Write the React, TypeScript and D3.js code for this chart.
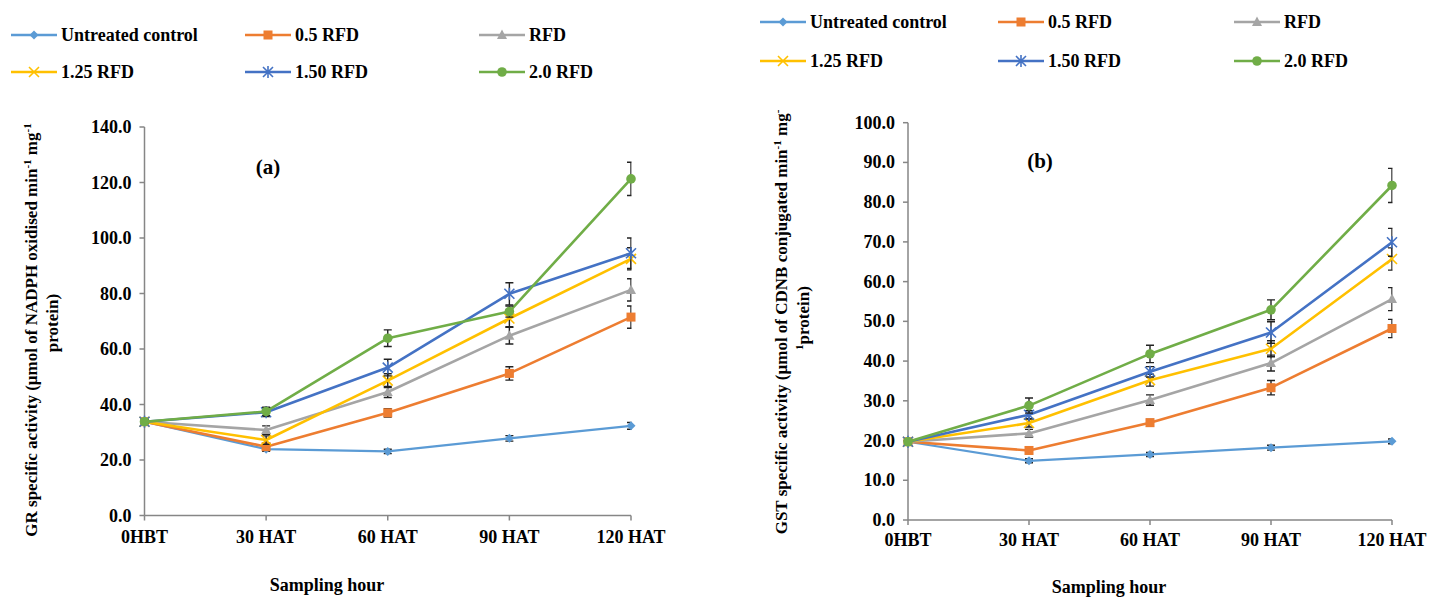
import React from "react";
import * as d3 from "d3";

const CATEGORIES = ["0HBT", "30 HAT", "60 HAT", "90 HAT", "120 HAT"];
const SERIES_NAMES = ["Untreated control", "0.5 RFD", "RFD", "1.25 RFD", "1.50 RFD", "2.0 RFD"];
const COLORS = ["#5B9BD5", "#ED7D31", "#A5A5A5", "#FFC000", "#4472C4", "#70AD47"];
const MARKERS = ["diamond", "square", "triangle", "x", "star", "circle"];

// Panel (a): GR specific activity
const GR_CONTROL = [33.8, 23.9, 23.1, 27.8, 32.3];
const GR_05 = [33.8, 24.8, 37.0, 51.2, 71.5];
const GR_RFD = [33.8, 30.8, 44.5, 64.8, 81.3];
const GR_125 = [33.8, 27.2, 48.6, 71.0, 92.5];
const GR_150 = [33.8, 37.2, 53.3, 79.9, 94.5];
const GR_20 = [33.8, 37.5, 63.9, 73.5, 121.3];
const GR_ERR_CONTROL = [0.6, 0.8, 0.8, 1.0, 1.2];
const GR_ERR_05 = [0.6, 1.2, 1.5, 2.4, 4.0];
const GR_ERR_RFD = [0.6, 1.5, 2.0, 3.0, 4.0];
const GR_ERR_125 = [0.6, 1.5, 2.5, 3.0, 4.0];
const GR_ERR_150 = [0.6, 1.5, 3.0, 4.0, 5.5];
const GR_ERR_20 = [0.6, 1.5, 3.0, 2.0, 6.0];
const GR_TICKS = [0, 20, 40, 60, 80, 100, 120, 140];

// Panel (b): GST specific activity
const GST_CONTROL = [19.7, 14.9, 16.5, 18.2, 19.8];
const GST_05 = [19.7, 17.5, 24.5, 33.3, 48.2];
const GST_RFD = [19.7, 21.8, 30.2, 39.5, 55.6];
const GST_125 = [19.7, 24.4, 35.2, 43.1, 65.7];
const GST_150 = [19.7, 26.5, 37.3, 47.2, 69.9];
const GST_20 = [19.7, 28.8, 41.8, 52.9, 84.2];
const GST_ERR_CONTROL = [0.4, 0.5, 0.5, 0.6, 0.6];
const GST_ERR_05 = [0.4, 0.8, 0.8, 1.8, 2.3];
const GST_ERR_RFD = [0.4, 1.0, 1.3, 2.0, 2.9];
const GST_ERR_125 = [0.4, 1.0, 1.5, 2.0, 2.8];
const GST_ERR_150 = [0.4, 1.0, 1.3, 2.7, 3.5];
const GST_ERR_20 = [0.4, 1.9, 2.2, 2.5, 4.3];
const GST_TICKS = [0, 10, 20, 30, 40, 50, 60, 70, 80, 90, 100];

const FONT = "'Liberation Serif', 'Times New Roman', serif";

function Marker({ type, x, y, color }: { type: string; x: number; y: number; color: string }) {
  switch (type) {
    case "diamond":
      return <path d={`M${x},${y - 4.5}L${x + 4.5},${y}L${x},${y + 4.5}L${x - 4.5},${y}Z`} fill={color} />;
    case "square":
      return <rect x={x - 4.5} y={y - 4.5} width={9} height={9} fill={color} />;
    case "triangle":
      return <path d={`M${x},${y - 5.5}L${x + 5},${y + 4}L${x - 5},${y + 4}Z`} fill={color} />;
    case "x":
      return (
        <path d={`M${x - 5},${y - 5}L${x + 5},${y + 5}M${x - 5},${y + 5}L${x + 5},${y - 5}`} stroke={color} strokeWidth={1.6} fill="none" />
      );
    case "star":
      return (
        <path
          d={`M${x - 5},${y - 5}L${x + 5},${y + 5}M${x - 5},${y + 5}L${x + 5},${y - 5}M${x},${y - 6}L${x},${y + 6}`}
          stroke={color}
          strokeWidth={1.6}
          fill="none"
        />
      );
    default:
      return <circle cx={x} cy={y} r={4.8} fill={color} />;
  }
}

type PanelProps = {
  id: string;
  x0: number;
  x1: number;
  yTopPx: number;
  yBotPx: number;
  yMax: number;
  ticks: number[];
  series: number[][];
  errors: number[][];
  tag: string;
  tagX: number;
  tagY: number;
  xLabelY: number;
  xTitleX: number;
  xTitleY: number;
  legendX: number[];
  legendY: number[];
  title1: React.ReactNode;
  title2: React.ReactNode;
  title1X: number;
  title1Y: number;
  title2X: number;
  title2Y: number;
};

function Panel(p: PanelProps) {
  const x = d3.scalePoint<string>().domain(CATEGORIES).range([p.x0, p.x1]);
  const y = d3.scaleLinear().domain([0, p.yMax]).range([p.yBotPx, p.yTopPx]);
  const line = d3
    .line<number>()
    .x((_, i) => x(CATEGORIES[i]) as number)
    .y((d) => y(d));
  const fmt = d3.format(".1f");
  return (
    <g>
      <defs>
        <clipPath id={`clip-${p.id}`}>
          <rect x={p.x0 - 0.5} y={0} width={p.x1 - p.x0 + 1} height={p.yBotPx + 1} />
        </clipPath>
      </defs>
      {/* legend */}
      {SERIES_NAMES.map((name, i) => {
        const lx = p.legendX[i % 3];
        const ly = p.legendY[Math.floor(i / 3)];
        return (
          <g key={name}>
            <line x1={lx} x2={lx + 46} y1={ly} y2={ly} stroke={COLORS[i]} strokeWidth={2.6} />
            <Marker type={MARKERS[i]} x={lx + 23} y={ly} color={COLORS[i]} />
            <text x={lx + 50} y={ly + 6} fontFamily={FONT} fontWeight="bold" fontSize={18} fill="#000">
              {name}
            </text>
          </g>
        );
      })}
      {/* y axis */}
      <line x1={p.x0} x2={p.x0} y1={y(p.yMax)} y2={p.yBotPx} stroke="#868686" strokeWidth={1.5} />
      {p.ticks.map((t) => (
        <g key={t}>
          <line x1={p.x0 - 5} x2={p.x0} y1={y(t)} y2={y(t)} stroke="#868686" strokeWidth={1.5} />
          <text
            x={p.x0 - 13}
            y={y(t) + 6}
            textAnchor="end"
            fontFamily={FONT}
            fontWeight="bold"
            fontSize={18}
            fill="#000"
          >
            {fmt(t)}
          </text>
        </g>
      ))}
      {/* x axis */}
      <line x1={p.x0} x2={p.x1} y1={p.yBotPx} y2={p.yBotPx} stroke="#868686" strokeWidth={1.5} />
      {CATEGORIES.map((c) => (
        <g key={c}>
          <line x1={x(c)} x2={x(c)} y1={p.yBotPx} y2={p.yBotPx + 5} stroke="#868686" strokeWidth={1.5} />
          <text x={x(c)} y={p.xLabelY} textAnchor="middle" fontFamily={FONT} fontWeight="bold" fontSize={18} fill="#000">
            {c}
          </text>
        </g>
      ))}
      <text x={p.xTitleX} y={p.xTitleY} textAnchor="middle" fontFamily={FONT} fontWeight="bold" fontSize={18} fill="#000">
        Sampling hour
      </text>
      {/* y title */}
      <text
        transform={`translate(${p.title1X},${p.title1Y}) rotate(-90)`}
        textAnchor="middle"
        fontFamily={FONT}
        fontWeight="bold"
        fontSize={17}
        fill="#000"
      >
        {p.title1}
      </text>
      <text
        transform={`translate(${p.title2X},${p.title2Y}) rotate(-90)`}
        textAnchor="middle"
        fontFamily={FONT}
        fontWeight="bold"
        fontSize={17}
        fill="#000"
      >
        {p.title2}
      </text>
      {/* tag */}
      <text x={p.tagX} y={p.tagY} textAnchor="middle" fontFamily={FONT} fontWeight="bold" fontSize={21} fill="#000">
        {p.tag}
      </text>
      {/* series */}
      {p.series.map((vals, si) => (
        <g key={si}>
          <path d={line(vals) as string} fill="none" stroke={COLORS[si]} strokeWidth={si === 0 ? 2.2 : 2.6} strokeLinejoin="round" />
          <g clipPath={`url(#clip-${p.id})`}>
            {vals.map((v, i) => {
              const cx = x(CATEGORIES[i]) as number;
              const e = p.errors[si][i];
              const top = y(v + e);
              const bot = y(v - e);
              return (
                <path
                  key={i}
                  d={`M${cx},${top}L${cx},${bot}M${cx - 4},${top}L${cx + 4},${top}M${cx - 4},${bot}L${cx + 4},${bot}`}
                  stroke="#222"
                  strokeWidth={1.4}
                  fill="none"
                />
              );
            })}
          </g>
          {vals.map((v, i) => (
            <Marker key={i} type={MARKERS[si]} x={x(CATEGORIES[i]) as number} y={y(v)} color={COLORS[si]} />
          ))}
        </g>
      ))}
    </g>
  );
}

const sup = (s: string) => (
  <tspan baselineShift="super" fontSize={11}>
    {s}
  </tspan>
);

export default function App() {
  return (
    <svg
      width={1431}
      height={598}
      style={{ position: "absolute", left: 0, top: 0, background: "#fff" }}
      xmlns="http://www.w3.org/2000/svg"
    >
      <rect width={1431} height={598} fill="#fff" />
      <Panel
        id="a"
        x0={144.5}
        x1={631}
        yTopPx={127}
        yBotPx={515.5}
        yMax={140}
        ticks={GR_TICKS}
        series={[GR_CONTROL, GR_05, GR_RFD, GR_125, GR_150, GR_20]}
        errors={[GR_ERR_CONTROL, GR_ERR_05, GR_ERR_RFD, GR_ERR_125, GR_ERR_150, GR_ERR_20]}
        tag="(a)"
        tagX={268}
        tagY={174}
        xLabelY={543}
        xTitleX={327}
        xTitleY={591}
        legendX={[11, 245, 479]}
        legendY={[35, 72]}
        title1={
          <>
            GR specific activity (µmol of NADPH oxidised min{sup("-1")} mg{sup("-1")}
          </>
        }
        title2={<>protein)</>}
        title1X={37}
        title1Y={330}
        title2X={58}
        title2Y={323}
      />
      <Panel
        id="b"
        x0={908}
        x1={1392}
        yTopPx={122.7}
        yBotPx={520}
        yMax={100}
        ticks={GST_TICKS}
        series={[GST_CONTROL, GST_05, GST_RFD, GST_125, GST_150, GST_20]}
        errors={[GST_ERR_CONTROL, GST_ERR_05, GST_ERR_RFD, GST_ERR_125, GST_ERR_150, GST_ERR_20]}
        tag="(b)"
        tagX={1040}
        tagY={168}
        xLabelY={546}
        xTitleX={1109}
        xTitleY={593}
        legendX={[760, 998, 1234]}
        legendY={[22, 61]}
        title1={
          <>
            GST specific activity (µmol  of CDNB conjugated min{sup("-1")} mg{sup("-")}
          </>
        }
        title2={
          <>
            {sup("1")}protein)
          </>
        }
        title1X={787}
        title1Y={322}
        title2X={809}
        title2Y={318}
      />
    </svg>
  );
}
